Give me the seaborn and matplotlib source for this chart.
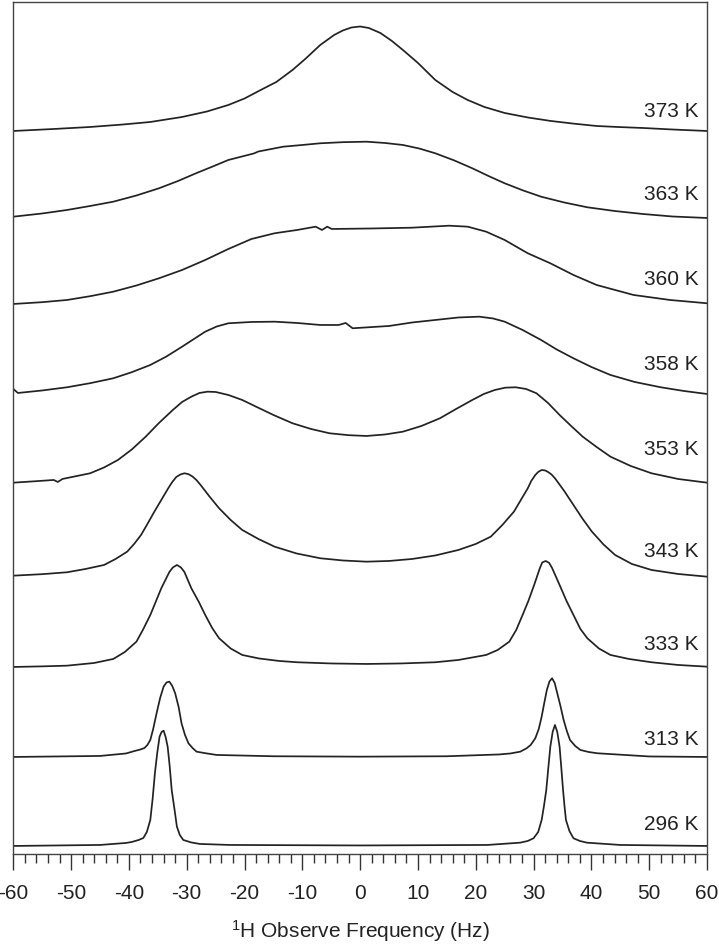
import numpy as np
import pandas as pd
import matplotlib
matplotlib.use("Agg")
import matplotlib.pyplot as plt
import seaborn as sns
from matplotlib.ticker import MultipleLocator

# temperatures, top to bottom
temps = ["373 K", "363 K", "360 K", "358 K", "353 K", "343 K", "333 K", "313 K", "296 K"]

# spectra: frequency (Hz) and signal height (arb. units)
hz_373 = [-60, -53, -46.7, -41, -36.3, -30.8, -26.5, -22.8, -20, -17.2, -14.5, -11.7, -9.5, -6.9,
          -4.5, -3, -1.5, 0, 1.5, 3.5, 5.5, 7.4, 10, 13, 16, 18.6, 21.5, 25, 29, 33, 37, 40.9,
          44.5, 48.9, 54, 60]
sig_373 = [0, 2, 4, 6.5, 9, 14, 19.5, 26, 32.5, 41, 49, 61, 72, 86,
           96, 100.5, 103.5, 104.5, 103, 98, 90, 81, 68, 51, 39, 31, 24, 18, 13.5, 10, 7.3, 5,
           4, 3, 1.5, 0]

hz_363 = [-60, -55, -50.7, -46.7, -42.7, -38.7, -34.8, -31.5, -28.4, -25.5, -22.8, -18.4, -17.6,
          -13.3, -10, -6.9, -3, 1.1, 4.3, 7.4, 10.2, 13, 16.3, 19.4, 22.2, 25, 28.2, 31.3, 35.3,
          39.3, 44, 48.9, 54, 60]
sig_363 = [1.3, 4.5, 8, 12, 16.3, 22.5, 29.7, 37, 44.7, 51.5, 58, 64.5, 66.5,
           71.3, 73, 74.7, 75.8, 76.3, 75, 73, 69.5, 64.7, 57.5, 49.7, 42, 34.7, 27.5, 21.3, 15.5,
           10.7, 7, 4, 1.5, 0]

hz_360 = [-60, -55, -50.7, -46.7, -42.7, -38.7, -34.8, -30.8, -26.8, -22.8, -18.8, -14.8, -10.9,
          -7.7, -6.6, -5.7, -4.9, 2, 9, 15.4, 18.6, 21.8, 25, 29, 32.9, 36.9, 40.9, 47.3, 53.6, 60]
sig_360 = [0, 1.8, 4, 7.8, 12.3, 18.5, 25.7, 34, 44, 55, 65, 70.7, 74,
           77.3, 74, 77.3, 75, 75.5, 76.3, 78.3, 77.3, 72.3, 64, 50.7, 40.7, 29, 19, 9, 4, 0.7]

hz_358 = [-60, -59.2, -55, -50.7, -46.7, -42.7, -39.5, -36.3, -33.5, -30.8, -26.8, -24.8, -22.8,
          -18.8, -14.8, -10.9, -6.9, -3.7, -2.5, -1.3, 5, 9, 13, 17, 20.6, 23, 25, 28.1, 31.3,
          34, 36.9, 40, 43.3, 47.5, 52, 56, 60]
sig_358 = [5, 1, 3.5, 6.7, 10.8, 15.7, 21.8, 29, 37.5, 47.3, 62.3, 67.5, 70.7,
           72, 72.3, 71, 69, 69, 71, 65.7, 68, 71.5, 74, 76.5, 77.3, 75.5, 72.3, 64, 54,
           44.5, 35.7, 27, 19, 12, 6.7, 3, 0]

hz_353 = [-60, -56, -53, -52.3, -51.5, -46.7, -44.3, -41.9, -39.5, -37.1, -34.8, -32.4, -30.8,
          -29.2, -27.8, -26.4, -25, -22.8, -20.4, -18, -15, -11.7, -8.5, -5.3, -2, 1.1, 4.3, 7.4,
          10.6, 13.8, 16.6, 19.4, 21.4, 23.3, 25.1, 26.9, 28.7, 30.5, 32.5, 34.5, 36.5, 38.5,
          40.9, 43.3, 46.8, 50.4, 55, 60]
sig_353 = [0.3, 1.8, 3, 1, 4, 9.7, 15.5, 23, 33.5, 46.3, 60, 73, 81,
           86.3, 90, 91.3, 91, 88, 83, 76.3, 68, 59.7, 54, 49.7, 47.8, 47, 48.5, 51.3,
           57, 64.7, 74, 83, 89, 93, 95.3, 95.7, 94, 89.7, 80, 68, 57, 46.3,
           36, 26.3, 17, 9.7, 4, 0.3]

hz_343 = [-60, -55, -50.7, -47.5, -44.3, -42.3, -40.3, -39.1, -37.9, -36.8, -35.6, -34.4, -33.2,
          -32.5, -31.8, -31.1, -30.4, -29.7, -29, -28.3, -27.6, -26, -24.4, -22.4, -20.4, -17.6,
          -14.8, -11, -6.9, -3, 1.1, 5, 9, 13, 17, 20, 22.6, 24.6, 26.6, 27.8, 29, 29.6, 30.3,
          30.8, 31.4, 32, 32.5, 33.1, 33.7, 35.3, 36.9, 38.5, 40.1, 42.1, 44.1, 47, 50.4, 55, 60]
sig_343 = [1.3, 2.8, 4.7, 8, 12, 18, 25.3, 33, 42, 53, 65.3, 77, 88.7,
           95, 100, 102.5, 103.7, 102.8, 100.5, 96.8, 92, 80, 68.7, 57, 47, 38,
           30.3, 23.5, 18.7, 16.5, 15.3, 16, 18, 21.5, 27, 33, 40.3, 52, 65.3, 77, 88.7, 96, 102,
           105, 107, 106.5, 105, 102.5, 98.7, 86, 72, 58, 45.3, 32.5, 22, 13, 7, 3, 0.3]

hz_333 = [-60, -55, -50.7, -46, -42.7, -40.7, -38.7, -37.5, -36.3, -35.3, -34.4, -33, -32.4, -31.7,
          -31, -30.4, -29.2, -27.9, -26.8, -25.6, -24.4, -22.4, -20.4, -17.5, -14, -10.9, -5, 1.1,
          7, 13, 17, 21.8, 23.8, 25.8, 27, 28.1, 29.1, 30.1, 31.1, 31.5, 32.1, 32.7, 33.2, 34.5,
          35.7, 36.9, 38.1, 39.3, 41.3, 43.3, 46.5, 50.4, 55, 60]
sig_333 = [0, 0.6, 1.3, 4, 8, 15, 25.3, 38, 52, 66, 78.7, 95, 99.5, 102,
           99.5, 95, 78.7, 65, 52, 39, 28.7, 18.5, 12, 8.5, 6, 4.7, 3.5, 3,
           3.5, 4.7, 7, 12, 17, 25.3, 37, 52, 66, 82, 99, 104.5, 106, 104, 99, 82,
           66, 52, 38, 28.7, 18.5, 12, 8, 4.7, 2, 0.3]

hz_313 = [-60, -45, -40.5, -39, -38, -37.3, -36.8, -36.3, -35.8, -35.2, -34.6, -34.0, -33.5,
          -33.0, -32.5, -32.0, -31.4, -30.9, -30.3, -29.7, -29, -28.3, -26.5, -24.8, -15, 0, 15,
          24, 26, 27.7, 28.8, 29.5, 30.3, 30.9, 31.4, 31.85, 32.3, 32.75, 33.2, 33.65, 34.1,
          34.65, 35.2, 35.75, 36.3, 37.2, 38.1, 39.5, 41, 50, 60]
sig_313 = [0, 1, 3.5, 6, 7.5, 9, 12, 17, 28, 44, 59, 70.3, 74.5,
           75.3, 71, 63.7, 50, 33.7, 22, 13.7, 9, 5.3, 3.5, 2, 0.7, 0.3, 0.7,
           2.5, 3.5, 5.3, 8.7, 12, 18.7, 28, 40.3, 54, 67, 75.5, 78.7, 74, 63.7,
           51, 37, 26, 17, 11, 7, 5, 3.7, 0.5, 0]

hz_296 = [-60, -45, -40.5, -39.5, -38.3, -37.5, -36.9, -36.3, -35.9, -35.5, -35.1, -34.7, -34.35,
          -34.0, -33.65, -33.3, -32.95, -32.6, -32.1, -31.7, -31.2, -30.6, -29.2, -27.7, -22.5, 0,
          22, 27.7, 29, 30.0, 30.8, 31.4, 31.8, 32.2, 32.55, 32.9, 33.3, 33.7, 34.1, 34.5, 34.8,
          35.1, 35.35, 35.6, 36.2, 36.9, 38, 39.2, 45, 60]
sig_296 = [0, 1, 3, 4, 6, 8, 14, 26, 47, 73, 93, 109.3, 114,
           115.3, 109, 99.3, 80, 56, 36, 19.3, 11, 6, 3.5, 2, 1, 0.5,
           1, 3.3, 5, 7.7, 14, 26, 40, 56, 78, 99.3, 114, 121, 114, 99.3, 78,
           56, 40, 26, 15, 7.7, 5, 3.3, 1, 0]

freqs = [hz_373, hz_363, hz_360, hz_358, hz_353, hz_343, hz_333, hz_313, hz_296]
signals = [sig_373, sig_363, sig_360, sig_358, sig_353, sig_343, sig_333, sig_313, sig_296]

# vertical stacking (layout)
offsets = [723, 636, 550, 460, 371, 277, 187, 97, 8]
label_y = [742, 659, 574, 489, 404, 302, 209, 114, 29]

sns.set_style("ticks")
plt.rcParams['font.family'] = ['Liberation Sans', 'DejaVu Sans']
plt.rcParams['mathtext.fontset'] = 'custom'
plt.rcParams['mathtext.rm'] = 'Liberation Sans'
plt.rcParams['mathtext.it'] = 'Liberation Sans'
plt.rcParams['axes.unicode_minus'] = False

fig = plt.figure(figsize=(7.19, 9.46), dpi=100)
ax = fig.add_axes([0.0185, 0.0973, 0.9648, 0.9006])

for t, hz, sig, off, ly in zip(temps, freqs, signals, offsets, label_y):
    df = pd.DataFrame({'hz': hz, 'y': np.array(sig) + off})
    sns.lineplot(data=df, x='hz', y='y', ax=ax, color='#222222', lw=1.25)
    ax.text(58.5, ly, t, ha='right', va='center', fontsize=15, color='#222222')

ax.set_xlim(-60, 60)
ax.set_ylim(0, 852)
ax.set_yticks([])
ax.set_ylabel('')
ax.xaxis.set_major_locator(MultipleLocator(10))
ax.xaxis.set_minor_locator(MultipleLocator(2))
ax.tick_params(axis='x', which='major', direction='out', length=11.5, width=1,
               labelsize=15, pad=10, colors='#333333', labelcolor='#222222')
ax.tick_params(axis='x', which='minor', direction='out', length=6.5, width=1, colors='#333333')
for s in ax.spines.values():
    s.set_visible(True)
    s.set_color('#444444')
    s.set_linewidth(1.0)

ax.set_xlabel(r'$^{1}$H Observe Frequency (Hz)', fontsize=15, color='#222222', labelpad=11)

fig.savefig('out.png', dpi=100)
